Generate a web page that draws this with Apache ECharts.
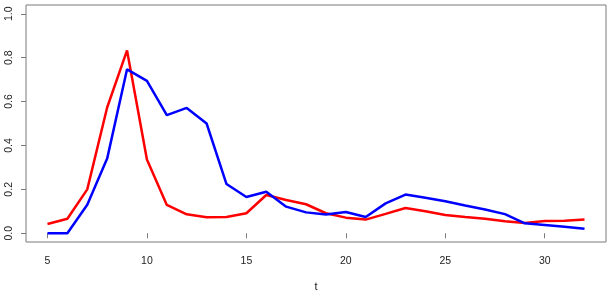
<!DOCTYPE html>
<html>
<head>
<meta charset="utf-8">
<script src="https://cdn.jsdelivr.net/npm/echarts@6/dist/echarts.min.js"></script>
<style>
html,body{margin:0;padding:0;background:#fff;}
#c{width:610px;height:291px;}
</style>
</head>
<body>
<div id="c"></div>
<script>
const tValues = [5,6,7,8,9,10,11,12,13,14,15,16,17,18,19,20,21,22,23,24,25,26,27,28,29,30,31,32];
const redValues = [0.042,0.066,0.200,0.573,0.833,0.336,0.129,0.086,0.073,0.074,0.091,0.174,0.151,0.132,0.091,0.071,0.062,0.088,0.115,0.100,0.083,0.074,0.066,0.055,0.047,0.056,0.057,0.062];
const blueValues = [0.0,0.0,0.130,0.340,0.747,0.694,0.538,0.571,0.500,0.224,0.165,0.189,0.121,0.095,0.085,0.097,0.074,0.136,0.176,0.162,0.146,0.126,0.108,0.087,0.045,0.038,0.030,0.020];
const xTicks = [5,10,15,20,25,30];
const yTicks = [0,0.2,0.4,0.6,0.8,1.0];
const xLabel = 't';

const chart = echarts.init(document.getElementById('c'), null, {renderer:'canvas'});
const pairs = (ys) => tValues.map((t,i)=>[t, ys[i]]);
const font = 'Liberation Sans, Arial, Helvetica, sans-serif';
chart.setOption({
  animation:false,
  backgroundColor:'#ffffff',
  grid:{left:26,right:4,top:5,bottom:49,containLabel:false,outerBoundsMode:'none',show:true,borderColor:'#7a7a7a',borderWidth:1,backgroundColor:'transparent'},
  xAxis:{
    type:'value', min:3.92, max:33.08,
    name:xLabel, nameLocation:'middle', nameGap:39,
    nameTextStyle:{color:'#222',fontSize:11,fontFamily:font},
    axisLine:{show:false},
    splitLine:{show:false},
    axisTick:{show:true,inside:false,length:5,lineStyle:{color:'#7a7a7a'},customValues:xTicks},
    axisLabel:{show:true,margin:14,color:'#222',fontSize:10.5,fontFamily:font,customValues:xTicks,formatter:(v)=>String(v)}
  },
  yAxis:{
    type:'value', min:-0.04, max:1.04,
    axisLine:{show:false},
    splitLine:{show:false},
    axisTick:{show:true,inside:false,length:5,lineStyle:{color:'#7a7a7a'},customValues:yTicks},
    axisLabel:{show:true,rotate:90,margin:11,color:'#222',fontSize:10.5,fontFamily:font,customValues:yTicks,formatter:(v)=>v.toFixed(1)}
  },
  series:[
    {type:'line',data:pairs(redValues),symbol:'none',lineStyle:{color:'#ff0000',width:2.5},itemStyle:{color:'#ff0000'}},
    {type:'line',data:pairs(blueValues),symbol:'none',lineStyle:{color:'#0000ff',width:2.5},itemStyle:{color:'#0000ff'}}
  ]
});
</script>
</body>
</html>
